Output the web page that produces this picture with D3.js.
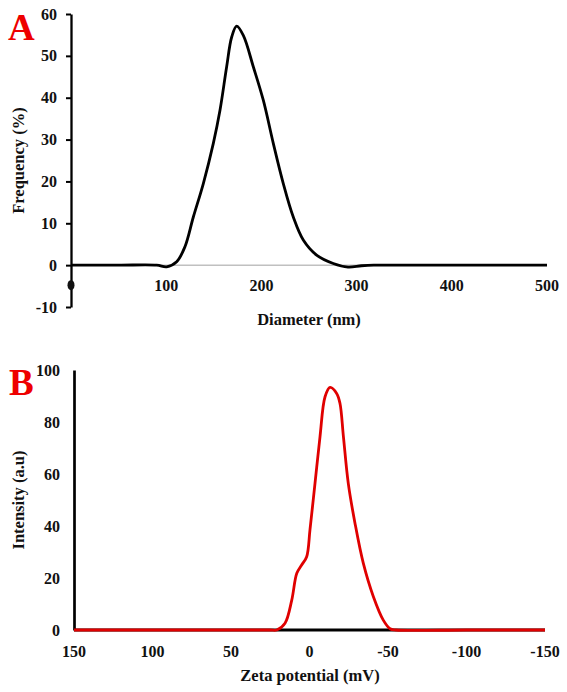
<!DOCTYPE html>
<html>
<head>
<meta charset="utf-8">
<script src="https://cdn.jsdelivr.net/npm/d3@7/dist/d3.min.js"></script>
<style>
  html, body { margin: 0; padding: 0; background: #fff; }
  svg text { font-family: "Liberation Serif", "Times New Roman", serif; font-weight: bold; }
</style>
</head>
<body>
<svg id="chart" width="567" height="692"></svg>
<script>
// ---- Panel A data: particle size distribution ----
const diameterNm = [0, 50, 90, 100.5, 111, 119.7, 128.5, 139, 149.5, 156.5, 163.5, 168.8, 174, 181, 191.5, 202, 212.5, 223, 233.5, 244, 258, 275.5, 291, 305, 318, 350, 400, 450, 500];
const frequencyPct = [0, 0, 0, -0.4, 0.8, 4.4, 11.5, 19.5, 29.1, 37, 47.4, 54.5, 57.1, 54.9, 47.4, 39.4, 29.1, 19.5, 11.5, 6, 2.4, 0.4, -0.45, -0.15, 0, 0, 0, 0, 0];
const xTicksA = [0, 100, 200, 300, 400, 500];
const yTicksA = [-10, 0, 10, 20, 30, 40, 50, 60];

// ---- Panel B data: zeta potential distribution ----
const zetaMv = [150, 100, 50, 25, 20.9, 15.6, 11.3, 8.1, 5, 1.8, -0.3, -3.5, -6.7, -9.9, -13.1, -17.3, -19.4, -21.6, -24.7, -29, -34.3, -40.7, -47, -51.3, -55, -100, -150];
const intensityAu = [0, 0, 0, 0, 0, 2.6, 11.5, 21.8, 25, 28.2, 38.5, 56.4, 74.4, 89.7, 93.3, 91, 87.2, 74.4, 56.4, 41, 25.6, 12.8, 3.8, 0.5, 0, 0, 0];
const xTicksB = [150, 100, 50, 0, -50, -100, -150];
const yTicksB = [0, 20, 40, 60, 80, 100];

const svg = d3.select("#chart");
const fontSize = 16;
const fmt = d => String(d);

// ================= Panel A =================
const xA = d3.scaleLinear().domain([0, 500]).range([71, 547]);
const yA = d3.scaleLinear().domain([-10, 60]).range([307, 14]);

// zero baseline (gray)
svg.append("line")
  .attr("x1", xA(0)).attr("x2", xA(500))
  .attr("y1", yA(0)).attr("y2", yA(0))
  .attr("stroke", "#c0c0c0").attr("stroke-width", 1.5);

// y axis
const gYA = svg.append("g").attr("transform", `translate(${xA(0)},0)`)
  .call(d3.axisLeft(yA).tickValues(yTicksA).tickSize(5).tickSizeOuter(0).tickPadding(9).tickFormat(fmt));
gYA.select(".domain").attr("stroke", "#000").attr("stroke-width", 2.3);
gYA.selectAll(".tick line").attr("stroke", "#000").attr("stroke-width", 2);
gYA.selectAll(".tick text").attr("font-size", fontSize).attr("fill", "#111")
  .attr("font-family", "Liberation Serif, Times New Roman, serif");

// x tick labels (no axis line; baseline is the gray line)
const xLabA = svg.append("g");
xTicksA.forEach(t => {
  if (t === 0) {
    xLabA.append("ellipse").attr("cx", xA(t)).attr("cy", yA(0) + 20).attr("rx", 3.5).attr("ry", 5).attr("fill", "#111");
  } else {
    xLabA.append("text").attr("x", xA(t)).attr("y", yA(0) + 25.5)
      .attr("text-anchor", "middle").attr("font-size", fontSize).attr("fill", "#111").text(fmt(t));
  }
});

// curve A
const dataA = diameterNm.map((d, i) => [d, frequencyPct[i]]);
svg.append("path").datum(dataA)
  .attr("fill", "none").attr("stroke", "#000").attr("stroke-width", 2.8)
  .attr("stroke-linejoin", "round")
  .attr("d", d3.line().x(d => xA(d[0])).y(d => yA(d[1])).curve(d3.curveCatmullRom.alpha(0.5)));

// titles A
svg.append("text").attr("x", 309).attr("y", 325).attr("text-anchor", "middle")
  .attr("font-size", 16.5).attr("fill", "#111").text("Diameter (nm)");
svg.append("text").attr("transform", `translate(24,${(yA(-10) + yA(60)) / 2}) rotate(-90)`)
  .attr("text-anchor", "middle").attr("font-size", 16.5).attr("fill", "#111").text("Frequency (%)");
svg.append("text").attr("x", 8).attr("y", 40).attr("font-size", 37).attr("fill", "#ee0000").text("A");

// ================= Panel B =================
const xB = d3.scaleLinear().domain([150, -150]).range([74, 545]);
const yB = d3.scaleLinear().domain([0, 100]).range([630, 370]);

// x axis line
svg.append("line")
  .attr("x1", xB(150)).attr("x2", xB(-150))
  .attr("y1", yB(0)).attr("y2", yB(0))
  .attr("stroke", "#000").attr("stroke-width", 3);

// y axis
const gYB = svg.append("g").attr("transform", `translate(${xB(150)},0)`)
  .call(d3.axisLeft(yB).tickValues(yTicksB).tickSize(0).tickSizeOuter(0).tickPadding(14).tickFormat(fmt));
gYB.select(".domain").attr("stroke", "#000").attr("stroke-width", 2.7);
gYB.selectAll(".tick text").attr("font-size", fontSize).attr("fill", "#111")
  .attr("font-family", "Liberation Serif, Times New Roman, serif");

// x tick labels
xTicksB.forEach(t => {
  svg.append("text").attr("x", xB(t)).attr("y", yB(0) + 27)
    .attr("text-anchor", "middle").attr("font-size", fontSize).attr("fill", "#111").text(fmt(t));
});

// curve B
const dataB = zetaMv.map((d, i) => [d, intensityAu[i]]);
svg.append("path").datum(dataB)
  .attr("fill", "none").attr("stroke", "#e00000").attr("stroke-width", 2.8)
  .attr("stroke-linejoin", "round")
  .attr("d", d3.line().x(d => xB(d[0])).y(d => yB(d[1])).curve(d3.curveCatmullRom.alpha(0.5)));

// titles B
svg.append("text").attr("x", 310).attr("y", 681).attr("text-anchor", "middle")
  .attr("font-size", 16.5).attr("fill", "#111").text("Zeta potential (mV)");
svg.append("text").attr("transform", `translate(24,${(yB(0) + yB(100)) / 2}) rotate(-90)`)
  .attr("text-anchor", "middle").attr("font-size", 16.5).attr("fill", "#111").text("Intensity (a.u)");
svg.append("text").attr("x", 9).attr("y", 395).attr("font-size", 37).attr("fill", "#ee0000").text("B");
</script>
</body>
</html>
